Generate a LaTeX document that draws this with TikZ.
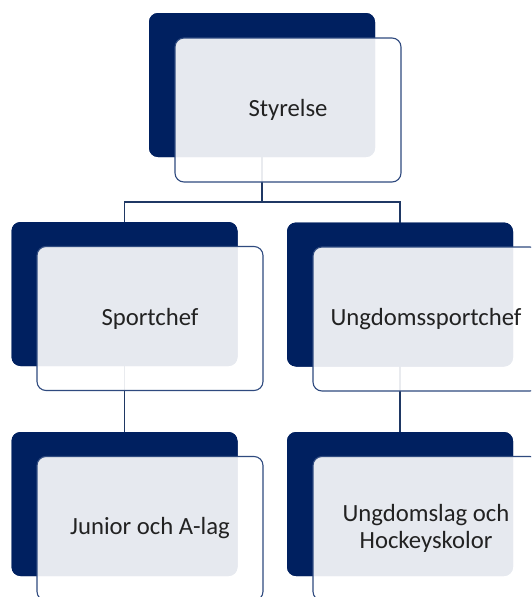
\documentclass[tikz,border=0pt]{standalone}
\usepackage{fontspec}
\setmainfont{Carlito}
\definecolor{navy}{HTML}{002060}
\definecolor{frameblue}{HTML}{2F4A7F}
\definecolor{connblue}{HTML}{1F3864}
\definecolor{txt}{HTML}{222222}
\begin{document}
\begin{tikzpicture}[x=1pt,y=-1pt,
  backbox/.style={draw=none,fill=navy,rounded corners=9pt,minimum width=226pt,minimum height=144pt,inner sep=0pt},
  frontbox/.style={draw=frameblue,line width=1.1pt,fill=white,fill opacity=0.9,text opacity=1,rounded corners=9pt,minimum width=226pt,minimum height=144pt,inner sep=0pt,align=center,text=txt,font=\fontsize{24.7}{27}\selectfont},
  conn/.style={draw=connblue,line width=1.8pt}]
\useasboundingbox (0,0) rectangle (531,597);
\clip (0,0) rectangle (531,597);
\fill[white] (0,0) rectangle (531,597);
% back boxes
\node[backbox] (tdark) at (262,85) {};
\node[backbox] (lmdark) at (124.5,294) {};
\node[backbox] (rmdark) at (400,294.5) {};
\node[backbox] (bldark) at (124.5,504) {};
\node[backbox] (brdark) at (400,504) {};
% connectors
\coordinate (bus) at (262,202);
\draw[conn] (tdark.center) -- (bus);
\draw[conn] (lmdark.center) |- (bus) -| (rmdark.center);
\draw[conn] (lmdark.center) -- (bldark.center);
\draw[conn] (rmdark.center) -- (brdark.center);
% redraw back boxes over connectors
\node[backbox] at (tdark) {};
\node[backbox] at (lmdark) {};
\node[backbox] at (rmdark) {};
\node[backbox] at (bldark) {};
\node[backbox] at (brdark) {};
% front boxes
\node[frontbox] (tfront) at (288,110) {Styrelse};
\node[frontbox] (lmfront) at (150,318.5) {Sportchef};
\node[frontbox] (rmfront) at (426,319) {Ungdomssportchef};
\node[frontbox] (blfront) at (150,528.5) {Junior och A-lag};
\node[frontbox] (brfront) at (426,528.5) {Ungdomslag och\\Hockeyskolor};
\end{tikzpicture}
\end{document}
